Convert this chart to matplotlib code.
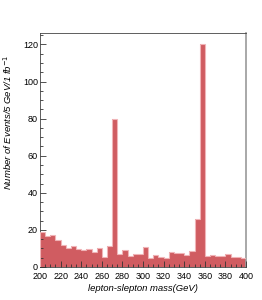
import matplotlib
matplotlib.use("Agg")
import matplotlib.pyplot as plt
from matplotlib.ticker import MultipleLocator
import numpy as np

bin_edges = list(range(200, 405, 5))
counts = [18.8, 16.7, 17.0, 14.7, 11.7, 10.4, 11.5, 9.9, 9.0, 9.5,
          8.1, 10.4, 5.4, 11.3, 80.0, 6.8, 9.3, 5.9, 6.8, 7.0,
          10.8, 4.8, 6.6, 5.2, 5.0, 8.1, 7.5, 7.5, 6.6, 8.8,
          26.0, 120.5, 6.1, 6.3, 6.1, 5.9, 7.0, 5.2, 5.6, 4.7]

plt.rcParams['font.family'] = ['Liberation Sans', 'DejaVu Sans']

fig = plt.figure(figsize=(2.62, 3.0), dpi=100)
ax = fig.add_axes([40/262, 1-267/300, 206/262, 234/300])

ax.stairs(counts, bin_edges, fill=True, color='#d05c61', zorder=2)
ax.stairs(counts, bin_edges, fill=False, color='#f0b4b7', linewidth=0.8, zorder=3)

ax.set_xlim(200, 400)
ax.set_ylim(0, 126.2)
ax.xaxis.set_major_locator(MultipleLocator(20))
ax.xaxis.set_minor_locator(MultipleLocator(5))
ax.yaxis.set_major_locator(MultipleLocator(20))
ax.yaxis.set_minor_locator(MultipleLocator(5))
ax.tick_params(which='both', direction='in', top=False, right=False, labelsize=6.5, width=0.6, color='#333333', zorder=5)
ax.tick_params(axis='x', pad=3.5)
ax.tick_params(axis='y', pad=1.5)
ax.tick_params(which='major', length=4)
ax.tick_params(which='minor', length=2)
ax.set_axisbelow(False)
for s in ['left', 'bottom', 'top']:
    ax.spines[s].set_linewidth(0.6)
    ax.spines[s].set_color('#444444')
ax.spines['right'].set_linewidth(1.2)
ax.spines['right'].set_color('#999999')

ax.set_xlabel('lepton-slepton mass(GeV)', fontsize=6.8, style='italic', labelpad=2)
ax.set_ylabel('Number of Events/5 GeV/1 fb$^{-1}$', fontsize=6.8, style='italic', labelpad=6)
ax.yaxis.set_label_coords(-0.125, 0.62)

fig.savefig('out.png', dpi=100)
